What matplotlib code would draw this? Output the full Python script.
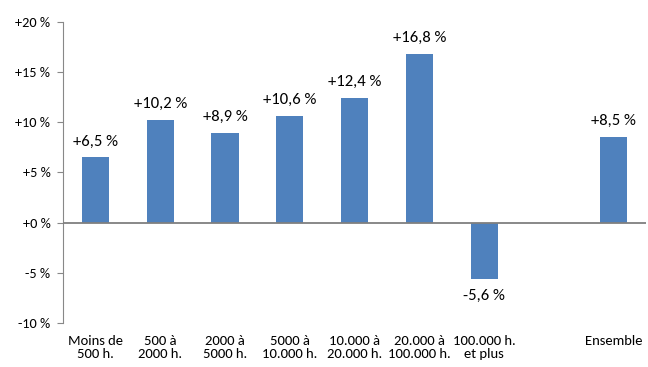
import matplotlib
matplotlib.use("Agg")
import matplotlib.pyplot as plt

categories = ["Moins de\n500 h.", "500 à\n2000 h.", "2000 à\n5000 h.", "5000 à\n10.000 h.",
              "10.000 à\n20.000 h.", "20.000 à\n100.000 h.", "100.000 h.\net plus", "", "Ensemble"]
values = [6.5, 10.2, 8.9, 10.6, 12.4, 16.8, -5.6, None, 8.5]
labels = ["+6,5 %", "+10,2 %", "+8,9 %", "+10,6 %", "+12,4 %", "+16,8 %", "-5,6 %", "", "+8,5 %"]
yticks = [-10, -5, 0, 5, 10, 15, 20]
yticklabels = ["-10 %", "-5 %", "+0 %", "+5 %", "+10 %", "+15 %", "+20 %"]

plt.rcParams['font.family'] = ['Carlito', 'Lato', 'DejaVu Sans']

fig = plt.figure(figsize=(6.48, 3.67), dpi=100)
ax = fig.add_axes([0.0972, 0.12, 0.9, 0.82])

x = list(range(len(categories)))
for i, (v, lab) in enumerate(zip(values, labels)):
    if v is None:
        continue
    ax.bar(i, v, width=0.42, color="#4F81BD", zorder=2)
    if v >= 0:
        ax.text(i, v + 0.9, lab, ha="center", va="bottom", fontsize=12)
    else:
        ax.text(i, v - 1.0, lab, ha="center", va="top", fontsize=12)

ax.set_xlim(-0.5, len(categories) - 0.5)
ax.set_ylim(-10, 20)
ax.set_yticks(yticks)
ax.set_yticklabels(yticklabels, fontsize=10.3)
ax.set_xticks(x)
ax.set_xticklabels(categories, fontsize=10.5, linespacing=1.05)
ax.tick_params(axis="x", length=0, pad=9)
ax.tick_params(axis="y", direction="out", length=4, color="#888888", pad=5)

for s in ["top", "right", "bottom"]:
    ax.spines[s].set_visible(False)
ax.spines["left"].set_color("#888888")
ax.axhline(0, color="#7f7f7f", lw=1.3, zorder=3)

fig.savefig("out.png", dpi=100)
